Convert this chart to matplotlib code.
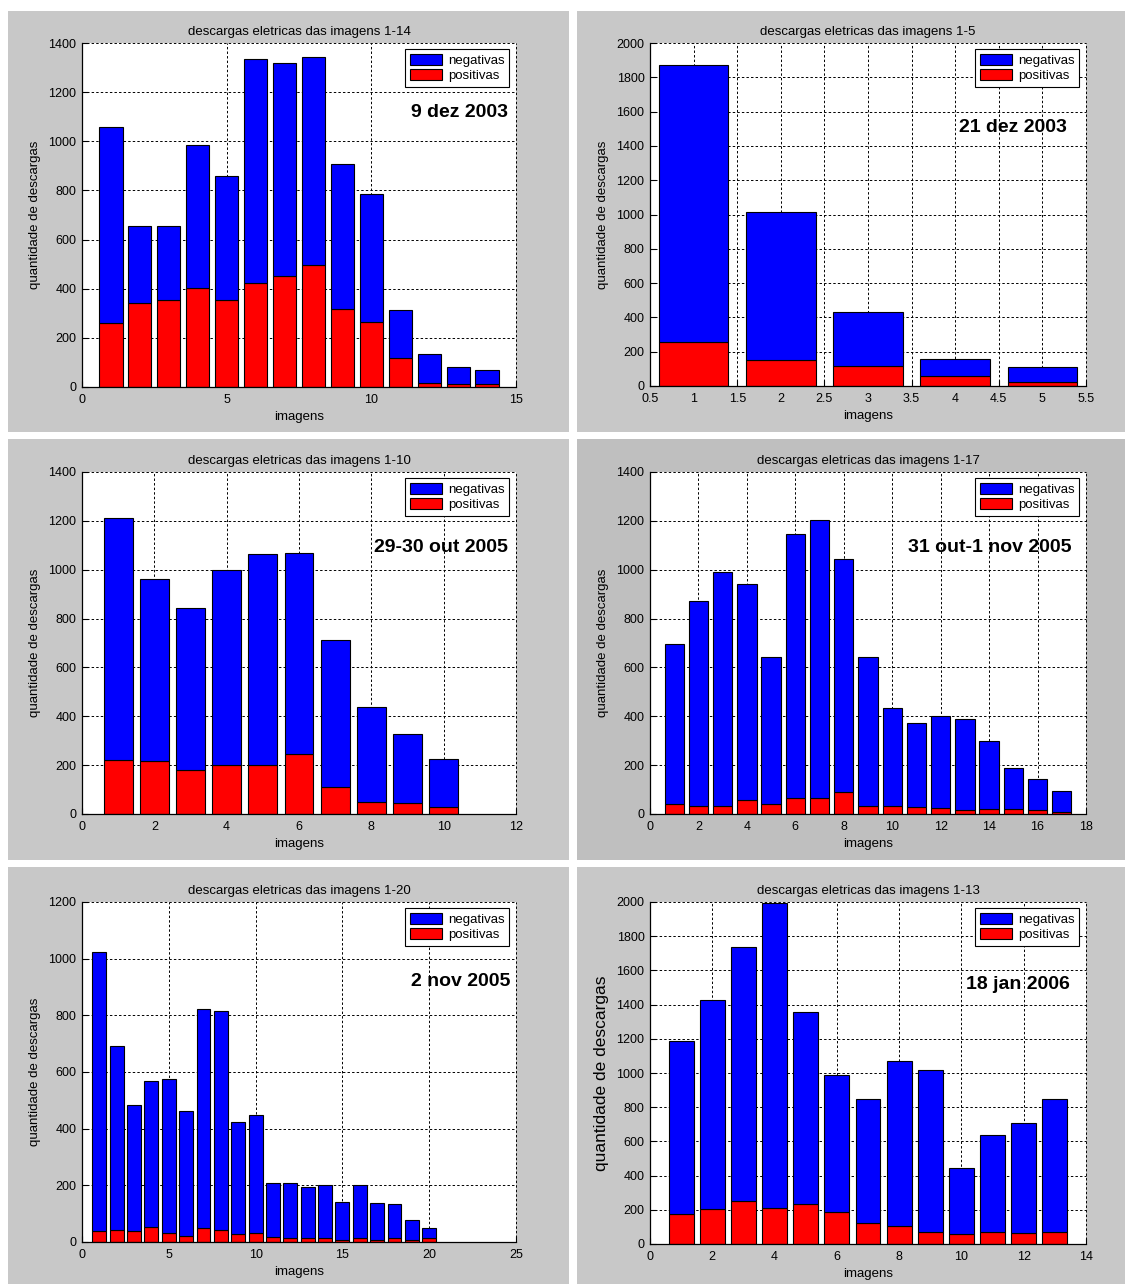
import matplotlib
matplotlib.use('Agg')
import matplotlib.pyplot as plt
from matplotlib.patches import Rectangle, Patch
import numpy as np

plt.rcParams['font.family'] = ['Liberation Sans', 'DejaVu Sans']

W, H = 1125, 1284
BLUE = '#0000ff'
RED = '#ff0000'
NEG_LABEL = 'negativas'
POS_LABEL = 'positivas'
YLABEL = 'quantidade de descargas'
XLABEL = 'imagens'

# --- 9 dez 2003 (imagens 1-14)
dez09_titulo = 'descargas eletricas das imagens 1-14'
dez09_data = '9 dez 2003'
dez09_neg = [799, 312, 302, 579, 507, 912, 865, 846, 591, 522, 194, 117, 68, 54]
dez09_pos = [261, 343, 353, 404, 353, 423, 453, 497, 318, 265, 120, 18, 14, 14]

# --- 21 dez 2003 (imagens 1-5)
dez21_titulo = 'descargas eletricas das imagens 1-5'
dez21_data = '21 dez 2003'
dez21_neg = [1617, 867, 315, 98, 90]
dez21_pos = [255, 150, 117, 60, 21]

# --- 29-30 out 2005 (imagens 1-10)
out29_titulo = 'descargas eletricas das imagens 1-10'
out29_data = '29-30 out 2005'
out29_neg = [990, 747, 664, 798, 861, 823, 602, 389, 281, 195]
out29_pos = [222, 216, 181, 202, 202, 244, 112, 50, 46, 30]

# --- 31 out-1 nov 2005 (imagens 1-17)
out31_titulo = 'descargas eletricas das imagens 1-17'
out31_data = '31 out-1 nov 2005'
out31_neg = [655, 839, 957, 886, 602, 1080, 1137, 956, 608, 401, 342, 375, 371, 277, 166, 125, 84]
out31_pos = [42, 34, 34, 56, 42, 67, 67, 89, 34, 34, 30, 26, 18, 22, 22, 18, 10]

# --- 2 nov 2005 (imagens 1-20)
nov02_titulo = 'descargas eletricas das imagens 1-20'
nov02_data = '2 nov 2005'
nov02_neg = [983, 649, 445, 513, 541, 442, 772, 773, 396, 417, 189, 195, 181, 187, 134, 186, 129, 120, 72, 35]
nov02_pos = [40, 43, 40, 54, 33, 22, 51, 43, 29, 33, 19, 15, 13, 13, 7, 14, 7, 13, 6, 14]

# --- 18 jan 2006 (imagens 1-13)
jan18_titulo = 'descargas eletricas das imagens 1-13'
jan18_data = '18 jan 2006'
jan18_neg = [1010, 1220, 1489, 1783, 1123, 801, 725, 965, 947, 389, 567, 642, 778]
jan18_pos = [177, 207, 250, 212, 236, 189, 125, 107, 72, 57, 72, 66, 72]

# tick positions for each panel
dez09_xticks = [0, 5, 10, 15]
dez21_xticks = [0.5, 1, 1.5, 2, 2.5, 3, 3.5, 4, 4.5, 5, 5.5]
out29_xticks = [0, 2, 4, 6, 8, 10, 12]
out31_xticks = [0, 2, 4, 6, 8, 10, 12, 14, 16, 18]
nov02_xticks = [0, 5, 10, 15, 20, 25]
jan18_xticks = [0, 2, 4, 6, 8, 10, 12, 14]
yticks_1400 = list(range(0, 1401, 200))
yticks_2000 = list(range(0, 2001, 200))
yticks_1200 = list(range(0, 1201, 200))

fig = plt.figure(figsize=(W / 100, H / 100), dpi=100)
fig.patch.set_facecolor('white')


def panel_bg(x0, y0, x1, y1, color):
    r = Rectangle((x0 / W, 1 - y1 / H), (x1 - x0) / W, (y1 - y0) / H,
                  transform=fig.transFigure, facecolor=color,
                  edgecolor='none', zorder=-10)
    fig.add_artist(r)


def axes_px(l, t, r, b):
    ax = fig.add_axes([l / W, 1 - b / H, (r - l) / W, (b - t) / H])
    ax.set_zorder(1)
    return ax


def draw(ax, titulo, data, neg, pos, xticks, yticks, text_xy, ylabel_size=9.5):
    x = np.arange(1, len(neg) + 1)
    ax.bar(x, pos, width=0.8, color=RED, edgecolor='black', linewidth=0.8, zorder=2)
    ax.bar(x, neg, bottom=pos, width=0.8, color=BLUE, edgecolor='black', linewidth=0.8, zorder=2)
    ax.set_xlim(xticks[0], xticks[-1])
    ax.set_ylim(yticks[0], yticks[-1])
    ax.set_xticks(xticks)
    ax.set_xticklabels(['%g' % v for v in xticks])
    ax.set_yticks(yticks)
    ax.set_yticklabels(['%g' % v for v in yticks])
    ax.set_facecolor('white')
    ax.grid(True, linestyle=(0, (2.5, 2.2)), color='black', linewidth=0.7, zorder=1)
    ax.set_axisbelow(True)
    for gl in ax.get_xgridlines() + ax.get_ygridlines():
        gl.set_clip_on(False)
    for s in ('top', 'right'):
        ax.spines[s].set_visible(False)
    for s in ('left', 'bottom'):
        ax.spines[s].set_linewidth(0.9)
    ax.tick_params(direction='in', length=4, width=0.8, labelsize=9, colors='black')
    ax.tick_params(axis='x', pad=5)
    ax.tick_params(axis='y', pad=4)
    ax.set_title(titulo, fontsize=9.5, pad=6)
    ax.set_xlabel(XLABEL, fontsize=9.5, labelpad=4)
    ax.set_ylabel(YLABEL, fontsize=ylabel_size, labelpad=5)
    handles = [Patch(facecolor=BLUE, edgecolor='black', linewidth=0.8, label=NEG_LABEL),
               Patch(facecolor=RED, edgecolor='black', linewidth=0.8, label=POS_LABEL)]
    leg = ax.legend(handles=handles, loc='upper right', bbox_to_anchor=(0.985, 0.982),
                    fontsize=9.5, fancybox=False, framealpha=1, edgecolor='black',
                    handlelength=2.4, handleheight=0.95, handletextpad=0.5,
                    borderpad=0.35, labelspacing=0.15, borderaxespad=0)
    leg.get_frame().set_linewidth(0.8)
    ax.text(text_xy[0], text_xy[1], data, ha='right', va='center',
            fontsize=14, fontweight='bold', zorder=3)


GRAY = '#c8c8c8'
GRAY_DARK = '#bfbfbf'
panel_bg(8, 11, 569, 432, GRAY)
panel_bg(577, 11, 1125, 432, GRAY)
panel_bg(8, 439, 569, 860, GRAY)
panel_bg(577, 439, 1125, 860, GRAY_DARK)
panel_bg(8, 867, 569, 1284, GRAY)
panel_bg(577, 867, 1125, 1284, GRAY)

ax1 = axes_px(82, 43, 516, 387)
draw(ax1, dez09_titulo, dez09_data, dez09_neg, dez09_pos, dez09_xticks, yticks_1400, (14.72, 1118))

ax2 = axes_px(650, 43, 1086, 386)
draw(ax2, dez21_titulo, dez21_data, dez21_neg, dez21_pos, dez21_xticks, yticks_2000, (5.28, 1510))

ax3 = axes_px(82, 472, 516, 814)
draw(ax3, out29_titulo, out29_data, out29_neg, out29_pos, out29_xticks, yticks_1400, (11.78, 1089))

ax4 = axes_px(650, 472, 1086, 814)
draw(ax4, out31_titulo, out31_data, out31_neg, out31_pos, out31_xticks, yticks_1400, (17.42, 1089))

ax5 = axes_px(82, 902, 516, 1242)
draw(ax5, nov02_titulo, nov02_data, nov02_neg, nov02_pos, nov02_xticks, yticks_1200, (24.7, 918))

ax6 = axes_px(650, 902, 1086, 1244)
draw(ax6, jan18_titulo, jan18_data, jan18_neg, jan18_pos, jan18_xticks, yticks_2000, (13.49, 1515),
     ylabel_size=12.5)

fig.savefig('out.png', dpi=100, facecolor=fig.get_facecolor())
